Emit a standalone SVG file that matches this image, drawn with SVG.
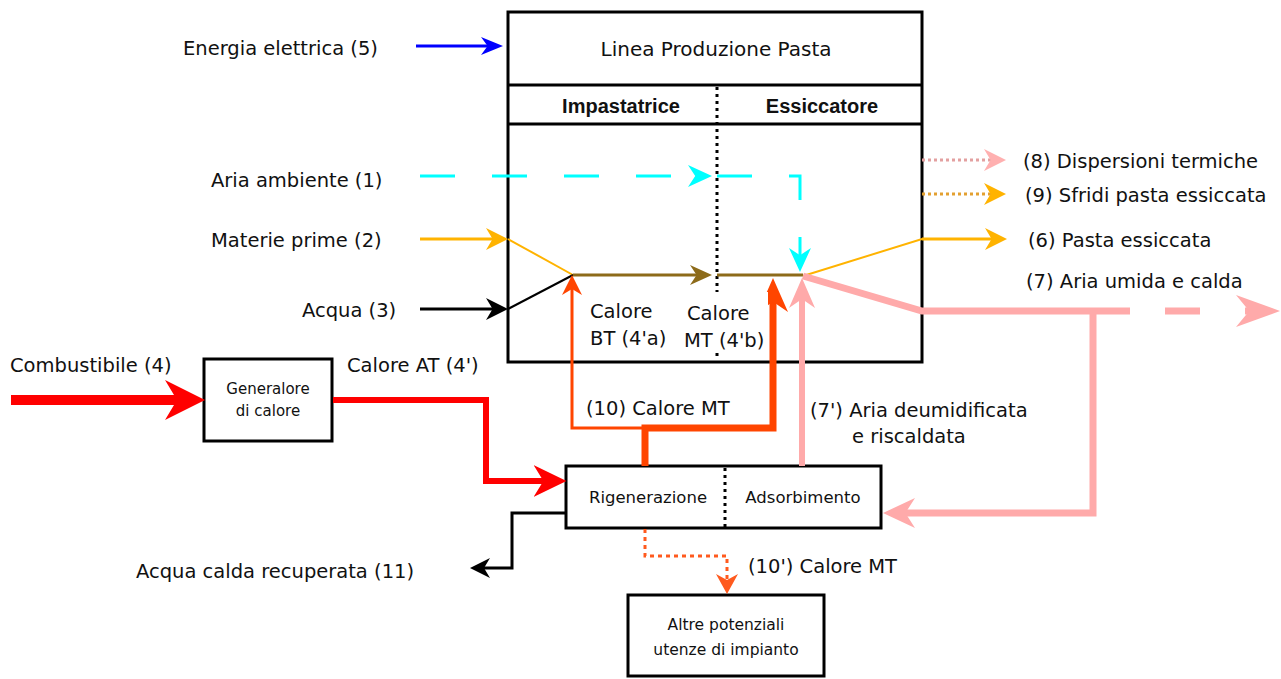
<svg xmlns="http://www.w3.org/2000/svg" width="1281" height="679" viewBox="0 0 1281 679">
<style>
text{font-family:"DejaVu Sans","Liberation Sans",sans-serif;fill:#111;font-size:19.5px}
.b{font-family:"Liberation Sans",Arial,sans-serif;font-weight:bold;font-size:20px;text-anchor:middle}
.t{font-size:20px;text-anchor:middle}
.s{font-size:16.5px;text-anchor:middle}
.g{font-size:15px;text-anchor:middle}
.a{font-size:15.5px;text-anchor:middle}
.box{fill:#fff;stroke:#000;stroke-width:3}
.dot{stroke:#000;stroke-width:3;stroke-dasharray:3 4;fill:none}
.c{fill:none;stroke-linejoin:miter}
</style>
<defs>
<marker id="m-blue" viewBox="0 0 20 20" refX="10" refY="10" markerUnits="userSpaceOnUse" markerWidth="22" markerHeight="18" orient="auto" preserveAspectRatio="none"><path d="M0,0 L20,10 L0,20 L6,10 Z" fill="#0000ff"/></marker>
<marker id="m-cyan" viewBox="0 0 20 20" refX="10" refY="10" markerUnits="userSpaceOnUse" markerWidth="24" markerHeight="22" orient="auto" preserveAspectRatio="none"><path d="M0,0 L20,10 L0,20 L6,10 Z" fill="#00ffff"/></marker>
<marker id="m-orange" viewBox="0 0 20 20" refX="10" refY="10" markerUnits="userSpaceOnUse" markerWidth="22" markerHeight="22" orient="auto" preserveAspectRatio="none"><path d="M0,0 L20,10 L0,20 L6,10 Z" fill="#ffb300"/></marker>
<marker id="m-black" viewBox="0 0 20 20" refX="10" refY="10" markerUnits="userSpaceOnUse" markerWidth="22" markerHeight="22" orient="auto" preserveAspectRatio="none"><path d="M0,0 L20,10 L0,20 L6,10 Z" fill="#000"/></marker>
<marker id="m-brown" viewBox="0 0 20 20" refX="10" refY="10" markerUnits="userSpaceOnUse" markerWidth="22" markerHeight="20" orient="auto" preserveAspectRatio="none"><path d="M0,0 L20,10 L0,20 L6,10 Z" fill="#8d6b1a"/></marker>
<marker id="m-or-thin" viewBox="0 0 20 20" refX="10" refY="10" markerUnits="userSpaceOnUse" markerWidth="20" markerHeight="20" orient="auto" preserveAspectRatio="none"><path d="M0,0 L20,10 L0,20 L6,10 Z" fill="#ff4500"/></marker>
<marker id="m-or-thick" viewBox="0 0 20 20" refX="10" refY="10" markerUnits="userSpaceOnUse" markerWidth="34" markerHeight="30" orient="auto" preserveAspectRatio="none"><path d="M0,0 L20,10 L0,20 L6,10 Z" fill="#ff4500"/></marker>
<marker id="m-pink" viewBox="0 0 20 20" refX="10" refY="10" markerUnits="userSpaceOnUse" markerWidth="30" markerHeight="26" orient="auto" preserveAspectRatio="none"><path d="M0,0 L20,10 L0,20 L6,10 Z" fill="#ffaaaa"/></marker>
<marker id="m-pink-big" viewBox="0 0 20 20" refX="10" refY="10" markerUnits="userSpaceOnUse" markerWidth="44" markerHeight="32" orient="auto" preserveAspectRatio="none"><path d="M0,0 L20,10 L0,20 L6,10 Z" fill="#ffaaaa"/></marker>
<marker id="m-pink-ret" viewBox="0 0 20 20" refX="10" refY="10" markerUnits="userSpaceOnUse" markerWidth="32" markerHeight="30" orient="auto" preserveAspectRatio="none"><path d="M0,0 L20,10 L0,20 L6,10 Z" fill="#ffaaaa"/></marker>
<marker id="m-pink-l" viewBox="0 0 20 20" refX="10" refY="10" markerUnits="userSpaceOnUse" markerWidth="22" markerHeight="22" orient="auto" preserveAspectRatio="none"><path d="M0,0 L20,10 L0,20 L6,10 Z" fill="#ffb0b0"/></marker>
<marker id="m-red-big" viewBox="0 0 20 20" refX="10" refY="10" markerUnits="userSpaceOnUse" markerWidth="40" markerHeight="40" orient="auto" preserveAspectRatio="none"><path d="M0,0 L20,10 L0,20 L6,10 Z" fill="#ff0000"/></marker>
<marker id="m-red" viewBox="0 0 20 20" refX="10" refY="10" markerUnits="userSpaceOnUse" markerWidth="33" markerHeight="32" orient="auto" preserveAspectRatio="none"><path d="M0,0 L20,10 L0,20 L6,10 Z" fill="#ff0000"/></marker>
<marker id="m-black-s" viewBox="0 0 20 20" refX="10" refY="10" markerUnits="userSpaceOnUse" markerWidth="20" markerHeight="20" orient="auto" preserveAspectRatio="none"><path d="M0,0 L20,10 L0,20 L6,10 Z" fill="#000"/></marker>
<marker id="m-or-dot" viewBox="0 0 20 20" refX="10" refY="10" markerUnits="userSpaceOnUse" markerWidth="20" markerHeight="22" orient="auto" preserveAspectRatio="none"><path d="M0,0 L20,10 L0,20 L6,10 Z" fill="#ff5a1e"/></marker>
</defs>
<rect width="1281" height="679" fill="#fff"/>

<g id="linea-produzione">
<rect class="box" x="508" y="12" width="414" height="350"/>
<line x1="508" y1="85" x2="922" y2="85" stroke="#000" stroke-width="3"/>
<line x1="508" y1="124" x2="922" y2="124" stroke="#000" stroke-width="3"/>
<line class="dot" x1="717" y1="87" x2="717" y2="360"/>
<text class="t" x="716" y="56">Linea Produzione Pasta</text>
<text class="b" x="621" y="113">Impastatrice</text>
<text class="b" x="822" y="113">Essiccatore</text>
</g>

<g id="generatore">
<rect class="box" x="204" y="359" width="128" height="82"/>
<text class="g" x="268" y="394">Generalore</text>
<text class="g" x="268" y="416">di calore</text>
</g>

<g id="rigenerazione-adsorbimento">
<rect class="box" x="566" y="466" width="315" height="62"/>
<line class="dot" x1="725" y1="468" x2="725" y2="527"/>
<text class="s" x="648" y="503">Rigenerazione</text>
<text class="s" x="803" y="503">Adsorbimento</text>
</g>

<g id="altre-utenze">
<rect class="box" x="628" y="595" width="196" height="81"/>
<text class="a" x="726" y="630">Altre potenziali</text>
<text class="a" x="726" y="655">utenze di impianto</text>
</g>

<g id="connectors" class="c">
<path d="M416,46 H492" stroke="#0000ff" stroke-width="3" marker-end="url(#m-blue)"/>
<path d="M420,176 H700" stroke="#00ffff" stroke-width="3" stroke-dasharray="35 37" marker-end="url(#m-cyan)"/>
<path d="M717,176 H800 V260" stroke="#00ffff" stroke-width="3" stroke-dasharray="35 37" marker-end="url(#m-cyan)"/>
<path d="M420,239 H497" stroke="#ffb300" stroke-width="3" marker-end="url(#m-orange)"/>
<path d="M508,239 L573,275" stroke="#ffb300" stroke-width="2"/>
<path d="M420,309 H497" stroke="#000" stroke-width="3" marker-end="url(#m-black)"/>
<path d="M508,309 L573,275" stroke="#000" stroke-width="2"/>
<path d="M573,275 H701" stroke="#8d6b1a" stroke-width="3" marker-end="url(#m-brown)"/>
<path d="M717,275 H803" stroke="#8d6b1a" stroke-width="3"/>
<path d="M645,428 H572 V285" stroke="#ff4500" stroke-width="3" marker-end="url(#m-or-thin)"/>
<path d="M645,466 V428 H773 V295" stroke="#ff4500" stroke-width="7" marker-end="url(#m-or-thick)"/>
<path d="M802,466 V293" stroke="#ffaaaa" stroke-width="6" marker-end="url(#m-pink)"/>
<path d="M803,276 L922,239 H996" stroke="#ffb300" stroke-width="2"/>
<path d="M922,239 H996" stroke="#ffb300" stroke-width="3" marker-end="url(#m-orange)"/>
<path d="M803,276 L922,311 H1130" stroke="#ffaaaa" stroke-width="7"/>
<path d="M1165,311 H1200" stroke="#ffaaaa" stroke-width="7"/>
<path d="M1245,311 H1258" stroke="#ffaaaa" stroke-width="7" marker-end="url(#m-pink-big)"/>
<path d="M1093,311 V513 H899" stroke="#ffaaaa" stroke-width="7" marker-end="url(#m-pink-ret)"/>
<path d="M922,160 H995" stroke="#e3a0a0" stroke-width="3" stroke-dasharray="3 3" marker-end="url(#m-pink-l)"/>
<path d="M922,194 H995" stroke="#e3a030" stroke-width="3" stroke-dasharray="3 3" marker-end="url(#m-orange)"/>
<path d="M11,400 H185" stroke="#ff0000" stroke-width="10" marker-end="url(#m-red-big)"/>
<path d="M333,400 H486 V481 H550" stroke="#ff0000" stroke-width="6" marker-end="url(#m-red)"/>
<path d="M566,513 H512 V568 H480" stroke="#000" stroke-width="3" marker-end="url(#m-black-s)"/>
<path d="M645,529 V556 H727 V584" stroke="#ff5a1e" stroke-width="3" stroke-dasharray="4 4" marker-end="url(#m-or-dot)"/>
</g>

<g id="labels">
<text x="183" y="55">Energia elettrica (5)</text>
<text x="211" y="187">Aria ambiente (1)</text>
<text x="211" y="247">Materie prime (2)</text>
<text x="302" y="317">Acqua (3)</text>
<text x="10" y="372">Combustibile (4)</text>
<text x="347" y="372">Calore AT (4')</text>
<text x="590" y="318">Calore</text>
<text x="590" y="345">BT (4'a)</text>
<rect x="684" y="292" width="84" height="60" fill="#fff"/>
<text x="687" y="320">Calore</text>
<text x="684" y="347">MT (4'b)</text>
<text x="586" y="415">(10) Calore MT</text>
<text x="810" y="417">(7') Aria deumidificata</text>
<text x="852" y="443">e riscaldata</text>
<text x="136" y="578">Acqua calda recuperata (11)</text>
<text x="748" y="573">(10') Calore MT</text>
<text x="1023" y="168">(8) Dispersioni termiche</text>
<text x="1025" y="202">(9) Sfridi pasta essiccata</text>
<text x="1028" y="247">(6) Pasta essiccata</text>
<text x="1026" y="288">(7) Aria umida e calda</text>
</g>
</svg>
